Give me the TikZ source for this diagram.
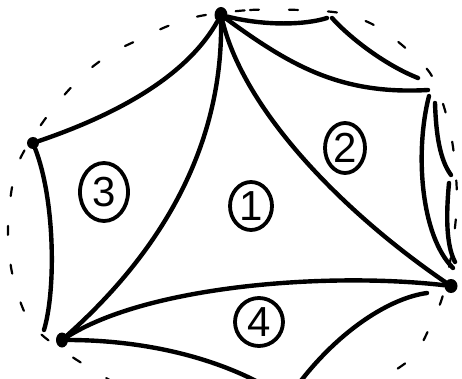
\documentclass[tikz,border=0pt]{standalone}
\usepackage{fontspec}
\setmainfont{Liberation Sans}
\usetikzlibrary{shapes.geometric}
\begin{document}
\begin{tikzpicture}[x=1pt,y=-1pt,
  edge/.style={line width=4.4pt, line cap=round},
  vdot/.style={ellipse, fill=black, inner sep=0pt},
  num/.style={ellipse, draw, line width=3.8pt, inner sep=0pt, font=\fontsize{42}{42}\selectfont},
  rim/.style={line width=2.2pt, line cap=round, dash pattern=on 9pt off 30pt}]
\clip (0,0) rectangle (462,379);
% dashed outer circle
\draw[rim] plot[smooth cycle] coordinates {(200,16) (250,10) (300,10) (340,13) (372,24) (402,45) (430,73) (444,107) (453,147) (457,200) (452,250) (443,295) (433,320) (418,350) (400,367) (330,410) (240,420) (150,400) (80,362) (32,325) (13,277) (8,227) (17,166) (48,115) (83,75) (112,53) (138,40) (168,26)};
% vertices
\node[vdot, minimum width=13pt, minimum height=16pt] (T) at (221,15) {};
\node[vdot, minimum width=12pt, minimum height=12pt] (L) at (33,143) {};
\node[vdot, minimum width=12pt, minimum height=15pt] (B) at (62,340) {};
\node[vdot, minimum width=13pt, minimum height=14pt] (R) at (451,286) {};
% free ends
\coordinate (b1) at (44,330);
\coordinate (c1) at (327,18);
\coordinate (c2) at (332,18);
\coordinate (c3) at (418,78);
\coordinate (c4) at (428,90);
\coordinate (d1) at (429,96);
\coordinate (d2) at (453,268);
\coordinate (e1) at (435,103);
\coordinate (e2) at (451,175);
\coordinate (f1) at (449,183);
\coordinate (f2) at (455,262);
\coordinate (g1) at (258,382);
\coordinate (h1) at (427,293);
\coordinate (h2) at (300,382);
% edges
\draw[edge] (T) .. controls (190,70) and (130,110) .. (L);
\draw[edge] (L) .. controls (55,200) and (56,290) .. (b1);
\draw[edge] (T) .. controls (222,120) and (185,230) .. (B);
\draw[edge] (T) .. controls (245,110) and (340,210) .. (R);
\draw[edge] (B) .. controls (150,285) and (330,272) .. (R);
\draw[edge] (T) .. controls (265,26) and (305,25) .. (c1);
\draw[edge] (c2) .. controls (350,38) and (385,65) .. (c3);
\draw[edge] (T) .. controls (290,65) and (340,95) .. (c4);
\draw[edge] (d1) .. controls (415,150) and (420,235) .. (d2);
\draw[edge] (e1) .. controls (436,135) and (440,160) .. (e2);
\draw[edge] (f1) .. controls (446,215) and (446,245) .. (f2);
\draw[edge] (B) .. controls (130,340) and (200,352) .. (g1);
\draw[edge] (h1) .. controls (390,298) and (340,330) .. (h2);
% region labels
\node[num, minimum width=42pt, minimum height=48pt] (n1) at (251,206) {1};
\node[num, minimum width=40pt, minimum height=50pt] (n2) at (345,148) {2};
\node[num, minimum width=48pt, minimum height=58pt] (n3) at (104,192) {3};
\node[num, minimum width=48pt, minimum height=48pt] (n4) at (259,322) {4};
\end{tikzpicture}
\end{document}
